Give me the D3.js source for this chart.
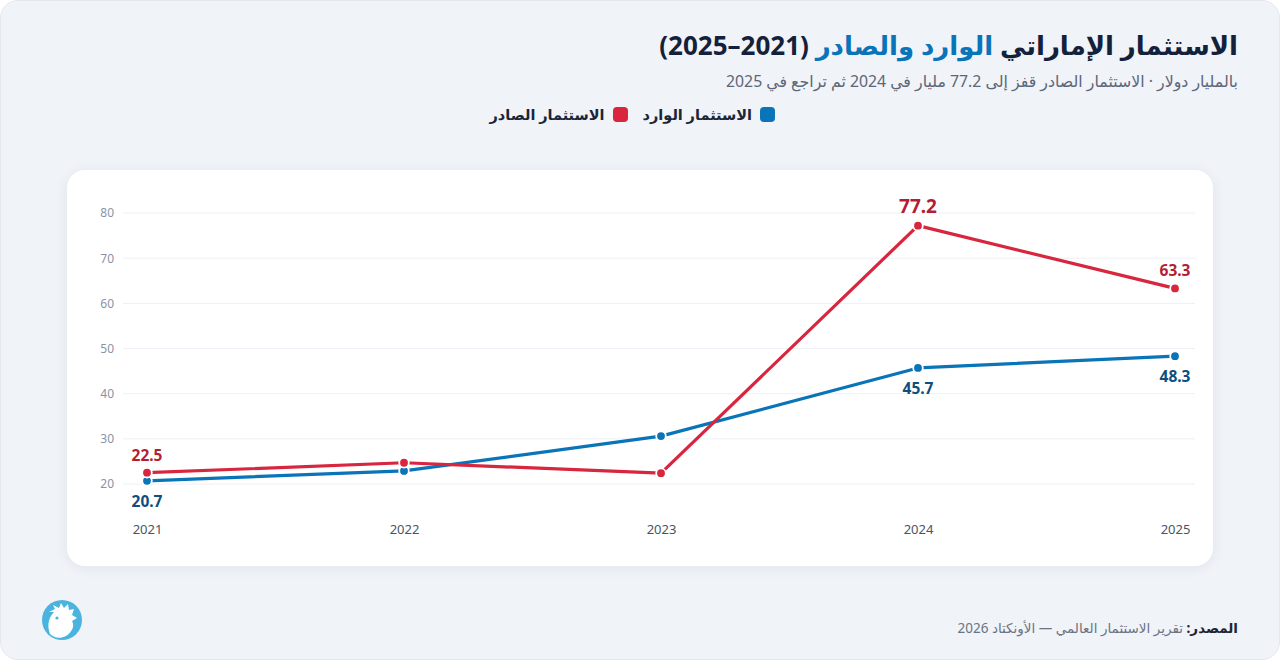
<!DOCTYPE html>
<html lang="ar">
<head>
<meta charset="utf-8">
<script src="https://cdn.jsdelivr.net/npm/d3@7"></script>
<style>
  html, body { margin: 0; padding: 0; }
  body { width: 1280px; height: 660px; overflow: hidden; font-family: "Noto Sans", "DejaVu Sans", sans-serif; background: #ffffff; }
  #page { position: absolute; left: 0; top: 0; width: 1278px; height: 658px; background: #f0f3f8; border: 1px solid #e3e8f0; border-radius: 18px; }
  .rtl { position: absolute; direction: rtl; right: 42px; white-space: nowrap; }
  #title { top: 27px; font-size: 26px; font-weight: 700; color: #13213a; }
  #title .hl { color: #0a74b8; }
  #subtitle { top: 70px; font-size: 15.8px; color: #5c6677; }
  #legend { top: 104px; right: 505px; font-size: 14.5px; font-weight: 700; color: #1c2536; }
  .lg { display: inline-flex; align-items: center; margin-left: 15px; }
  .sw { width: 15px; height: 15px; border-radius: 4px; margin-left: 8px; }
  #source { top: 619px; font-size: 13.5px; color: #6b7383; }
  #source b { color: #1c2536; }
  #card { position: absolute; left: 67px; top: 170px; width: 1146px; height: 396px; background: #fff; border-radius: 18px; box-shadow: 0 2px 14px rgba(30,50,90,0.07); }
  svg { position: absolute; left: 0; top: 0; }
</style>
</head>
<body>
<div id="page"></div>
<div id="card"></div>
<div id="title" class="rtl">الاستثمار الإماراتي <span class="hl">الوارد والصادر</span> (2021–2025)</div>
<div id="subtitle" class="rtl">بالمليار دولار · الاستثمار الصادر قفز إلى 77.2 مليار في 2024 ثم تراجع في 2025</div>
<div id="legend" class="rtl"></div>
<div id="source" class="rtl"><b>المصدر:</b> تقرير الاستثمار العالمي — الأونكتاد 2026</div>
<div id="chart"></div>
<script>
const years = ["2021", "2022", "2023", "2024", "2025"]
const inflow = [20.7, 22.9, 30.6, 45.7, 48.3]
const outflow = [22.5, 24.7, 22.4, 77.2, 63.3]
const yTicks = [20, 30, 40, 50, 60, 70, 80]
// which points get a value label, and where (above / below)
const inflowLabels = { "2021": "below", "2024": "below", "2025": "below" }
const outflowLabels = { "2021": "above", "2024": "above", "2025": "above" }

const seriesNames = ["الاستثمار الوارد", "الاستثمار الصادر"]
const colors = ["#0a74b8", "#d7263d"]
const labelColors = ["#0e4f80", "#b51d33"]

const width = 1280
const height = 660

const svg = d3.select("#chart")
  .append("svg")
    .attr("width", width)
    .attr("height", height)

// legend
const legend = d3.select("#legend")
seriesNames.forEach((name, i) => {
  const item = legend.append("span").attr("class", "lg")
  item.append("span").attr("class", "sw").style("background", colors[i])
  item.append("span").text(name)
})

const x = d3.scalePoint()
  .domain(years)
  .range([147, 1175])

const y = d3.scaleLinear()
  .domain([20, 80])
  .range([484, 213])

// gridlines
svg.append("g")
  .selectAll("line")
  .data(yTicks)
  .join("line")
    .attr("x1", 123)
    .attr("x2", 1195)
    .attr("y1", d => y(d))
    .attr("y2", d => y(d))
    .attr("stroke", "#edf0f5")
    .attr("stroke-width", 1)

// y axis
const yAxis = svg.append("g")
  .attr("transform", "translate(114,0)")
  .call(d3.axisLeft(y).tickValues(yTicks).tickSize(0).tickPadding(0))
yAxis.select(".domain").remove()
yAxis.selectAll("text")
  .attr("fill", "#8a93a5")
  .style("font-size", "12px")
  .style("font-family", "'Noto Sans', sans-serif")

// x axis
const xAxis = svg.append("g")
  .attr("transform", "translate(0,525)")
  .call(d3.axisBottom(x).tickSize(0).tickPadding(0))
xAxis.select(".domain").remove()
xAxis.selectAll("text")
  .attr("fill", "#4a5466")
  .style("font-size", "13px")
  .style("font-family", "'Noto Sans', sans-serif")

const line = d3.line()
  .x(d => x(d.year))
  .y(d => y(d.value))

const series = [
  { values: inflow, color: colors[0], labelColor: labelColors[0], labels: inflowLabels },
  { values: outflow, color: colors[1], labelColor: labelColors[1], labels: outflowLabels }
]

series.forEach(s => {
  const pts = years.map((yr, i) => ({ year: yr, value: s.values[i] }))

  svg.append("path")
    .datum(pts)
    .attr("fill", "none")
    .attr("stroke", s.color)
    .attr("stroke-width", 3.2)
    .attr("stroke-linejoin", "round")
    .attr("d", line)

  svg.append("g")
    .selectAll("circle")
    .data(pts)
    .join("circle")
      .attr("cx", d => x(d.year))
      .attr("cy", d => y(d.value))
      .attr("r", 4.8)
      .attr("fill", s.color)
      .attr("stroke", "#fff")
      .attr("stroke-width", 1.8)

  svg.append("g")
    .selectAll("text")
    .data(pts.filter(d => s.labels[d.year]))
    .join("text")
      .attr("x", d => x(d.year))
      .attr("y", d => s.labels[d.year] === "above" ? y(d.value) - (d.value > 70 ? 13 : 12) : y(d.value) + 26)
      .attr("text-anchor", "middle")
      .attr("fill", s.labelColor)
      .style("font-weight", 700)
      .style("font-size", d => d.value > 70 ? "19px" : "15.5px")
      .style("font-family", "'Noto Sans', sans-serif")
      .text(d => d.value.toFixed(1))
})

// logo
const logo = svg.append("g").attr("transform", "translate(62,620)")
logo.append("circle").attr("r", 20).attr("fill", "#4bb4de")
logo.append("path")
  .attr("d", "M-12,14 C-16,4 -12,-4 -8,-8 L-13,-8 L-7,-11 L-9,-15 L-3,-12 L-1,-17 L2,-12 L6,-16 L7,-10 L12,-11 L10,-5 L15,-2 L10,1 C13,6 10,12 4,16 C-2,19 -8,18 -12,14 Z")
  .attr("fill", "#fff")
logo.append("circle").attr("cx", -5).attr("cy", -2).attr("r", 1.6).attr("fill", "#4bb4de")
</script>
</body>
</html>
